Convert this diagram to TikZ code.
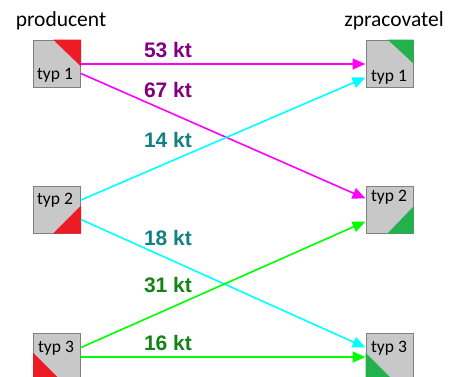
\documentclass[tikz,border=0pt]{standalone}
\usepackage{fontspec}
\setmainfont{Carlito}
\newfontfamily\arialfont{Liberation Sans}
\usetikzlibrary{arrows.meta}
\definecolor{boxgray}{RGB}{200,200,200}
\definecolor{boxline}{RGB}{128,128,128}
\definecolor{prodred}{RGB}{237,28,36}
\definecolor{procgreen}{RGB}{34,177,76}
\definecolor{flowmag}{RGB}{255,0,255}
\definecolor{flowcyan}{RGB}{0,255,255}
\definecolor{flowgreen}{RGB}{0,255,0}
\definecolor{txtmag}{RGB}{128,0,128}
\definecolor{txtcyan}{RGB}{20,128,128}
\definecolor{txtgreen}{RGB}{20,130,20}
\tikzset{
  unitbox/.style={rectangle, draw=boxline, line width=1pt, fill=boxgray, minimum size=47pt, inner sep=0pt},
  boxtext/.style={font=\fontsize{17.5}{17.5}\selectfont, inner sep=0pt},
  headtext/.style={font=\fontsize{21.5}{21.5}\selectfont, inner sep=0pt},
  flow/.style={line width=1.6pt, -{Triangle[length=13pt,width=11pt]}},
  amount/.style={font=\arialfont\bfseries\fontsize{21}{21}\selectfont, inner sep=0pt}
}
\begin{document}
\begin{tikzpicture}[x=1pt,y=-1pt]
   \useasboundingbox (0,0) rectangle (449,376);
   % headers
   \node[headtext] (hp) at (61,21) {producent};
   \node[headtext] (hz) at (394,21) {zpracovatel};
   % producent boxes
   \node[unitbox] (p1) at (57,63.5) {};
   \node[unitbox] (p2) at (57,209.5) {};
   \node[unitbox] (p3) at (57,356.5) {};
   \fill[prodred] (p1.north east) -- ++(-28,0) -- ++(28,27) -- cycle;
   \fill[prodred] (p2.south east) -- ++(-28,0) -- ++(28,-28) -- cycle;
   \fill[prodred] (p3.south west) -- ++(0,-28) -- ++(28,28) -- cycle;
   \node[boxtext] (p1t) at (55,75) {typ 1};
   \node[boxtext] (p2t) at (55,200) {typ 2};
   \node[boxtext] (p3t) at (56,348) {typ 3};
   % zpracovatel boxes
   \node[unitbox] (z1) at (389.5,63.5) {};
   \node[unitbox] (z2) at (389.5,209.5) {};
   \node[unitbox] (z3) at (389.5,356.5) {};
   \fill[procgreen] (z1.north east) -- ++(-26,0) -- ++(26,24) -- cycle;
   \fill[procgreen] (z2.south east) -- ++(-26,0) -- ++(26,-27) -- cycle;
   \fill[procgreen] (z3.south west) -- ++(0,-28) -- ++(28,28) -- cycle;
   \node[boxtext] (z1t) at (389,77) {typ 1};
   \node[boxtext] (z2t) at (389,197) {typ 2};
   \node[boxtext] (z3t) at (389,348) {typ 3};
   % flows
   \draw[flow, flowmag] ([yshift=-0.5pt]p1.east) -- ([yshift=-0.5pt]z1.west);
   \draw[flow, flowmag] ([yshift=-10pt]p1.east) -- ([yshift=11pt]z2.west);
   \draw[flow, flowcyan] ([yshift=9.5pt]p2.east) -- ([yshift=-14pt]z1.west);
   \draw[flow, flowcyan] ([yshift=-10pt]p2.east) -- ([yshift=9pt]z3.west);
   \draw[flow, flowgreen] ([yshift=9pt]p3.east) -- ([yshift=-12pt]z2.west);
   \draw[flow, flowgreen] ([yshift=-0.5pt]p3.east) -- ([yshift=-0.5pt]z3.west);
   % amounts
   \node[amount, txtmag] (a53) at (168,50) {53 kt};
   \node[amount, txtmag] (a67) at (168,90) {67 kt};
   \node[amount, txtcyan] (a14) at (168,140) {14 kt};
   \node[amount, txtcyan] (a18) at (168,238) {18 kt};
   \node[amount, txtgreen] (a31) at (168,285) {31 kt};
   \node[amount, txtgreen] (a16) at (168,343) {16 kt};
\end{tikzpicture}
\end{document}
